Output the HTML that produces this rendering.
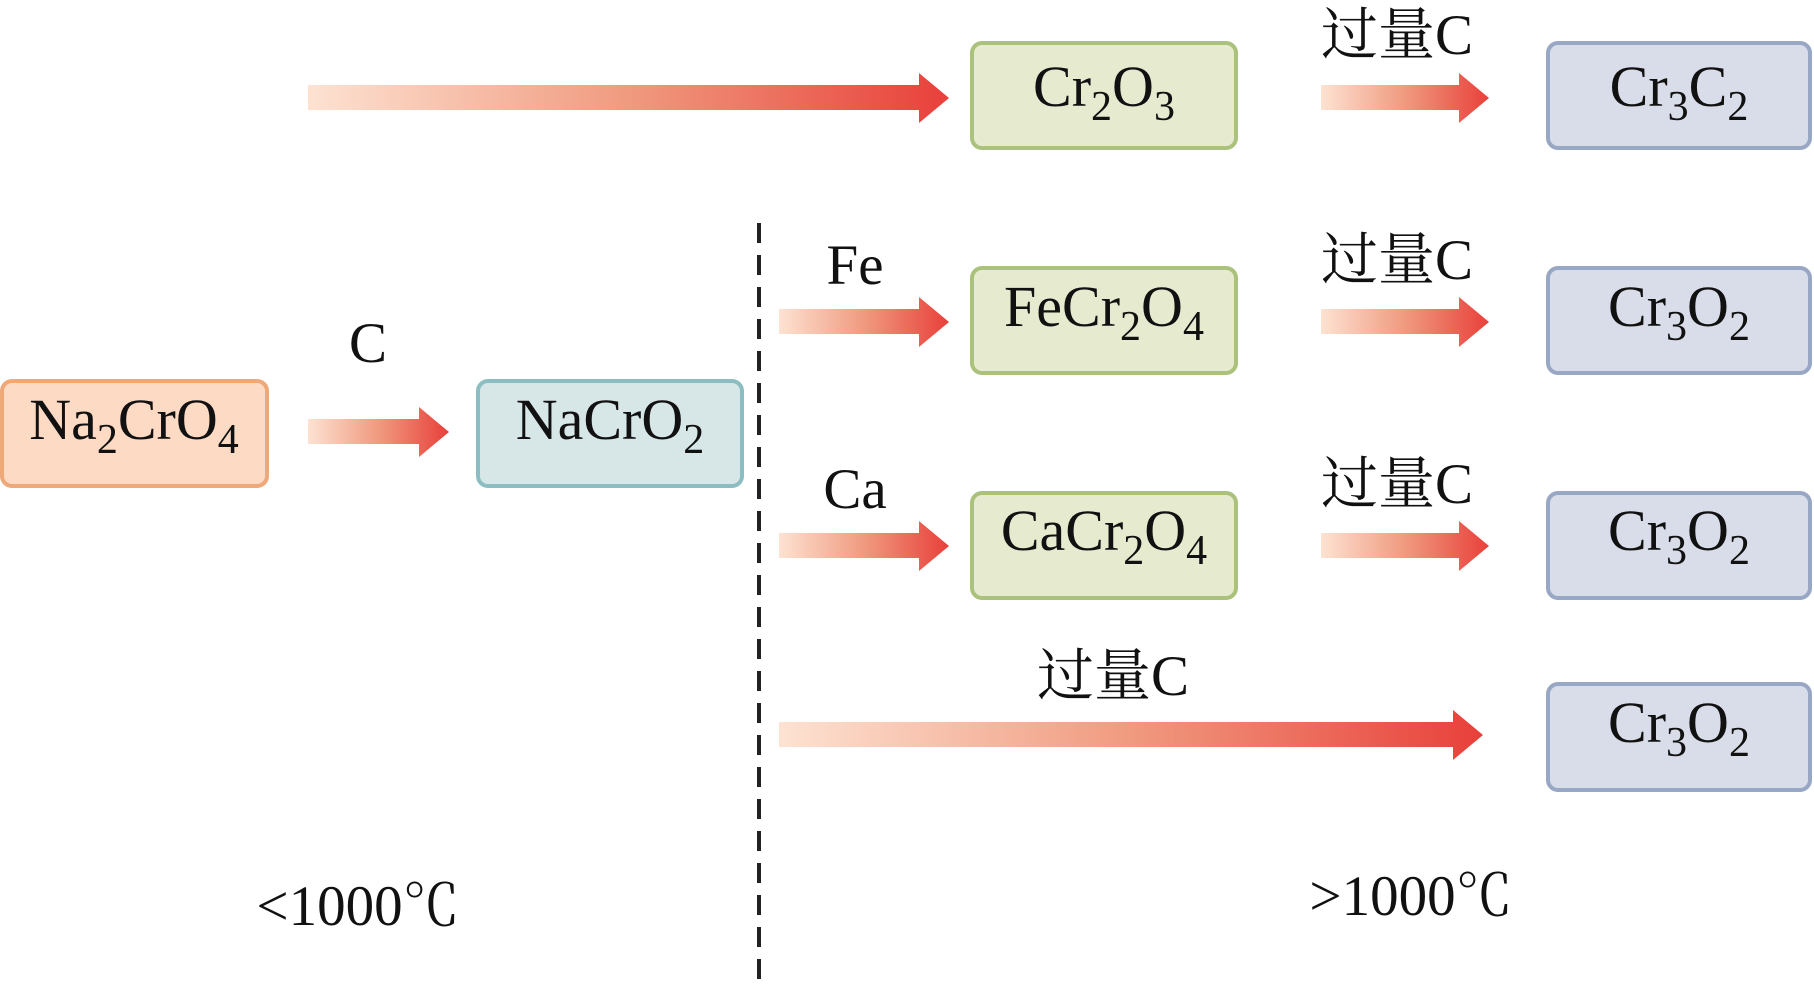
<!DOCTYPE html>
<html><head><meta charset="utf-8"><style>
html,body{margin:0;padding:0;background:#fff;}
svg{display:block;}
text{font-family:"Liberation Serif","Noto Serif CJK SC",serif;fill:#111;}
</style></head><body>
<svg width="1814" height="984" viewBox="0 0 1814 984" xmlns="http://www.w3.org/2000/svg">
<defs>
<linearGradient id="g" x1="0" x2="1" y1="0" y2="0">
<stop offset="0" stop-color="#fde2d2"/><stop offset="0.5" stop-color="#f09a7f"/><stop offset="1" stop-color="#e8403a"/>
</linearGradient>
</defs>
<g fill="url(#g)">
<path d="M308 85 H919 V73 L949 98 L919 123 V110 H308 Z"/>
<path d="M1321 85 H1459 V73 L1489 98 L1459 123 V110 H1321 Z"/>
<path d="M1321 309 H1459 V297 L1489 322 L1459 347 V334 H1321 Z"/>
<path d="M1321 533 H1459 V521 L1489 546 L1459 571 V558 H1321 Z"/>
<path d="M779 309 H919 V297 L949 322 L919 347 V334 H779 Z"/>
<path d="M779 533 H919 V521 L949 546 L919 571 V558 H779 Z"/>
<path d="M308 419 H419 V407 L449 432 L419 457 V444 H308 Z"/>
<path d="M779 722 H1453 V710 L1483 735 L1453 760 V747 H779 Z"/>
</g>
<line x1="759" y1="223" x2="759" y2="984" stroke="#222" stroke-width="4" stroke-dasharray="20,12"/>
<g stroke-width="4">
<rect x="972" y="43" width="264" height="105" rx="10" fill="#e6ebd0" stroke="#abc27d"/>
<rect x="1548" y="43" width="262" height="105" rx="10" fill="#d9dde9" stroke="#98a7c4"/>
<rect x="972" y="268" width="264" height="105" rx="10" fill="#e6ebd0" stroke="#abc27d"/>
<rect x="1548" y="268" width="262" height="105" rx="10" fill="#d9dde9" stroke="#98a7c4"/>
<rect x="972" y="493" width="264" height="105" rx="10" fill="#e6ebd0" stroke="#abc27d"/>
<rect x="1548" y="493" width="262" height="105" rx="10" fill="#d9dde9" stroke="#98a7c4"/>
<rect x="1548" y="684" width="262" height="106" rx="10" fill="#d9dde9" stroke="#98a7c4"/>
<rect x="2" y="381" width="265" height="105" rx="10" fill="#fcdac4" stroke="#efa878"/>
<rect x="478" y="381" width="264" height="105" rx="10" fill="#d7e7e8" stroke="#8cbdc1"/>
</g>
<g font-size="58" text-anchor="middle">
<text x="1104" y="106">Cr<tspan font-size="42" dy="14">2</tspan><tspan dy="-14">O</tspan><tspan font-size="42" dy="14">3</tspan></text>
<text x="1679" y="106">Cr<tspan font-size="42" dy="14">3</tspan><tspan dy="-14">C</tspan><tspan font-size="42" dy="14">2</tspan></text>
<text x="1104" y="326">FeCr<tspan font-size="42" dy="14">2</tspan><tspan dy="-14">O</tspan><tspan font-size="42" dy="14">4</tspan></text>
<text x="1679" y="326">Cr<tspan font-size="42" dy="14">3</tspan><tspan dy="-14">O</tspan><tspan font-size="42" dy="14">2</tspan></text>
<text x="1104" y="550">CaCr<tspan font-size="42" dy="14">2</tspan><tspan dy="-14">O</tspan><tspan font-size="42" dy="14">4</tspan></text>
<text x="1679" y="550">Cr<tspan font-size="42" dy="14">3</tspan><tspan dy="-14">O</tspan><tspan font-size="42" dy="14">2</tspan></text>
<text x="1679" y="742">Cr<tspan font-size="42" dy="14">3</tspan><tspan dy="-14">O</tspan><tspan font-size="42" dy="14">2</tspan></text>
<text x="134" y="439">Na<tspan font-size="42" dy="14">2</tspan><tspan dy="-14">CrO</tspan><tspan font-size="42" dy="14">4</tspan></text>
<text x="610" y="439">NaCrO<tspan font-size="42" dy="14">2</tspan></text>
</g>
<g font-size="57" text-anchor="middle">
<text x="1397" y="54">过量C</text>
<text x="1397" y="279">过量C</text>
<text x="1397" y="503">过量C</text>
<text x="1113" y="695">过量C</text>
<text x="368" y="362">C</text>
<text x="855" y="284">Fe</text>
<text x="855" y="508">Ca</text>
<text x="358" y="925">&lt;1000℃</text>
<text x="1411" y="915">&gt;1000℃</text>
</g>
</svg>
</body></html>
